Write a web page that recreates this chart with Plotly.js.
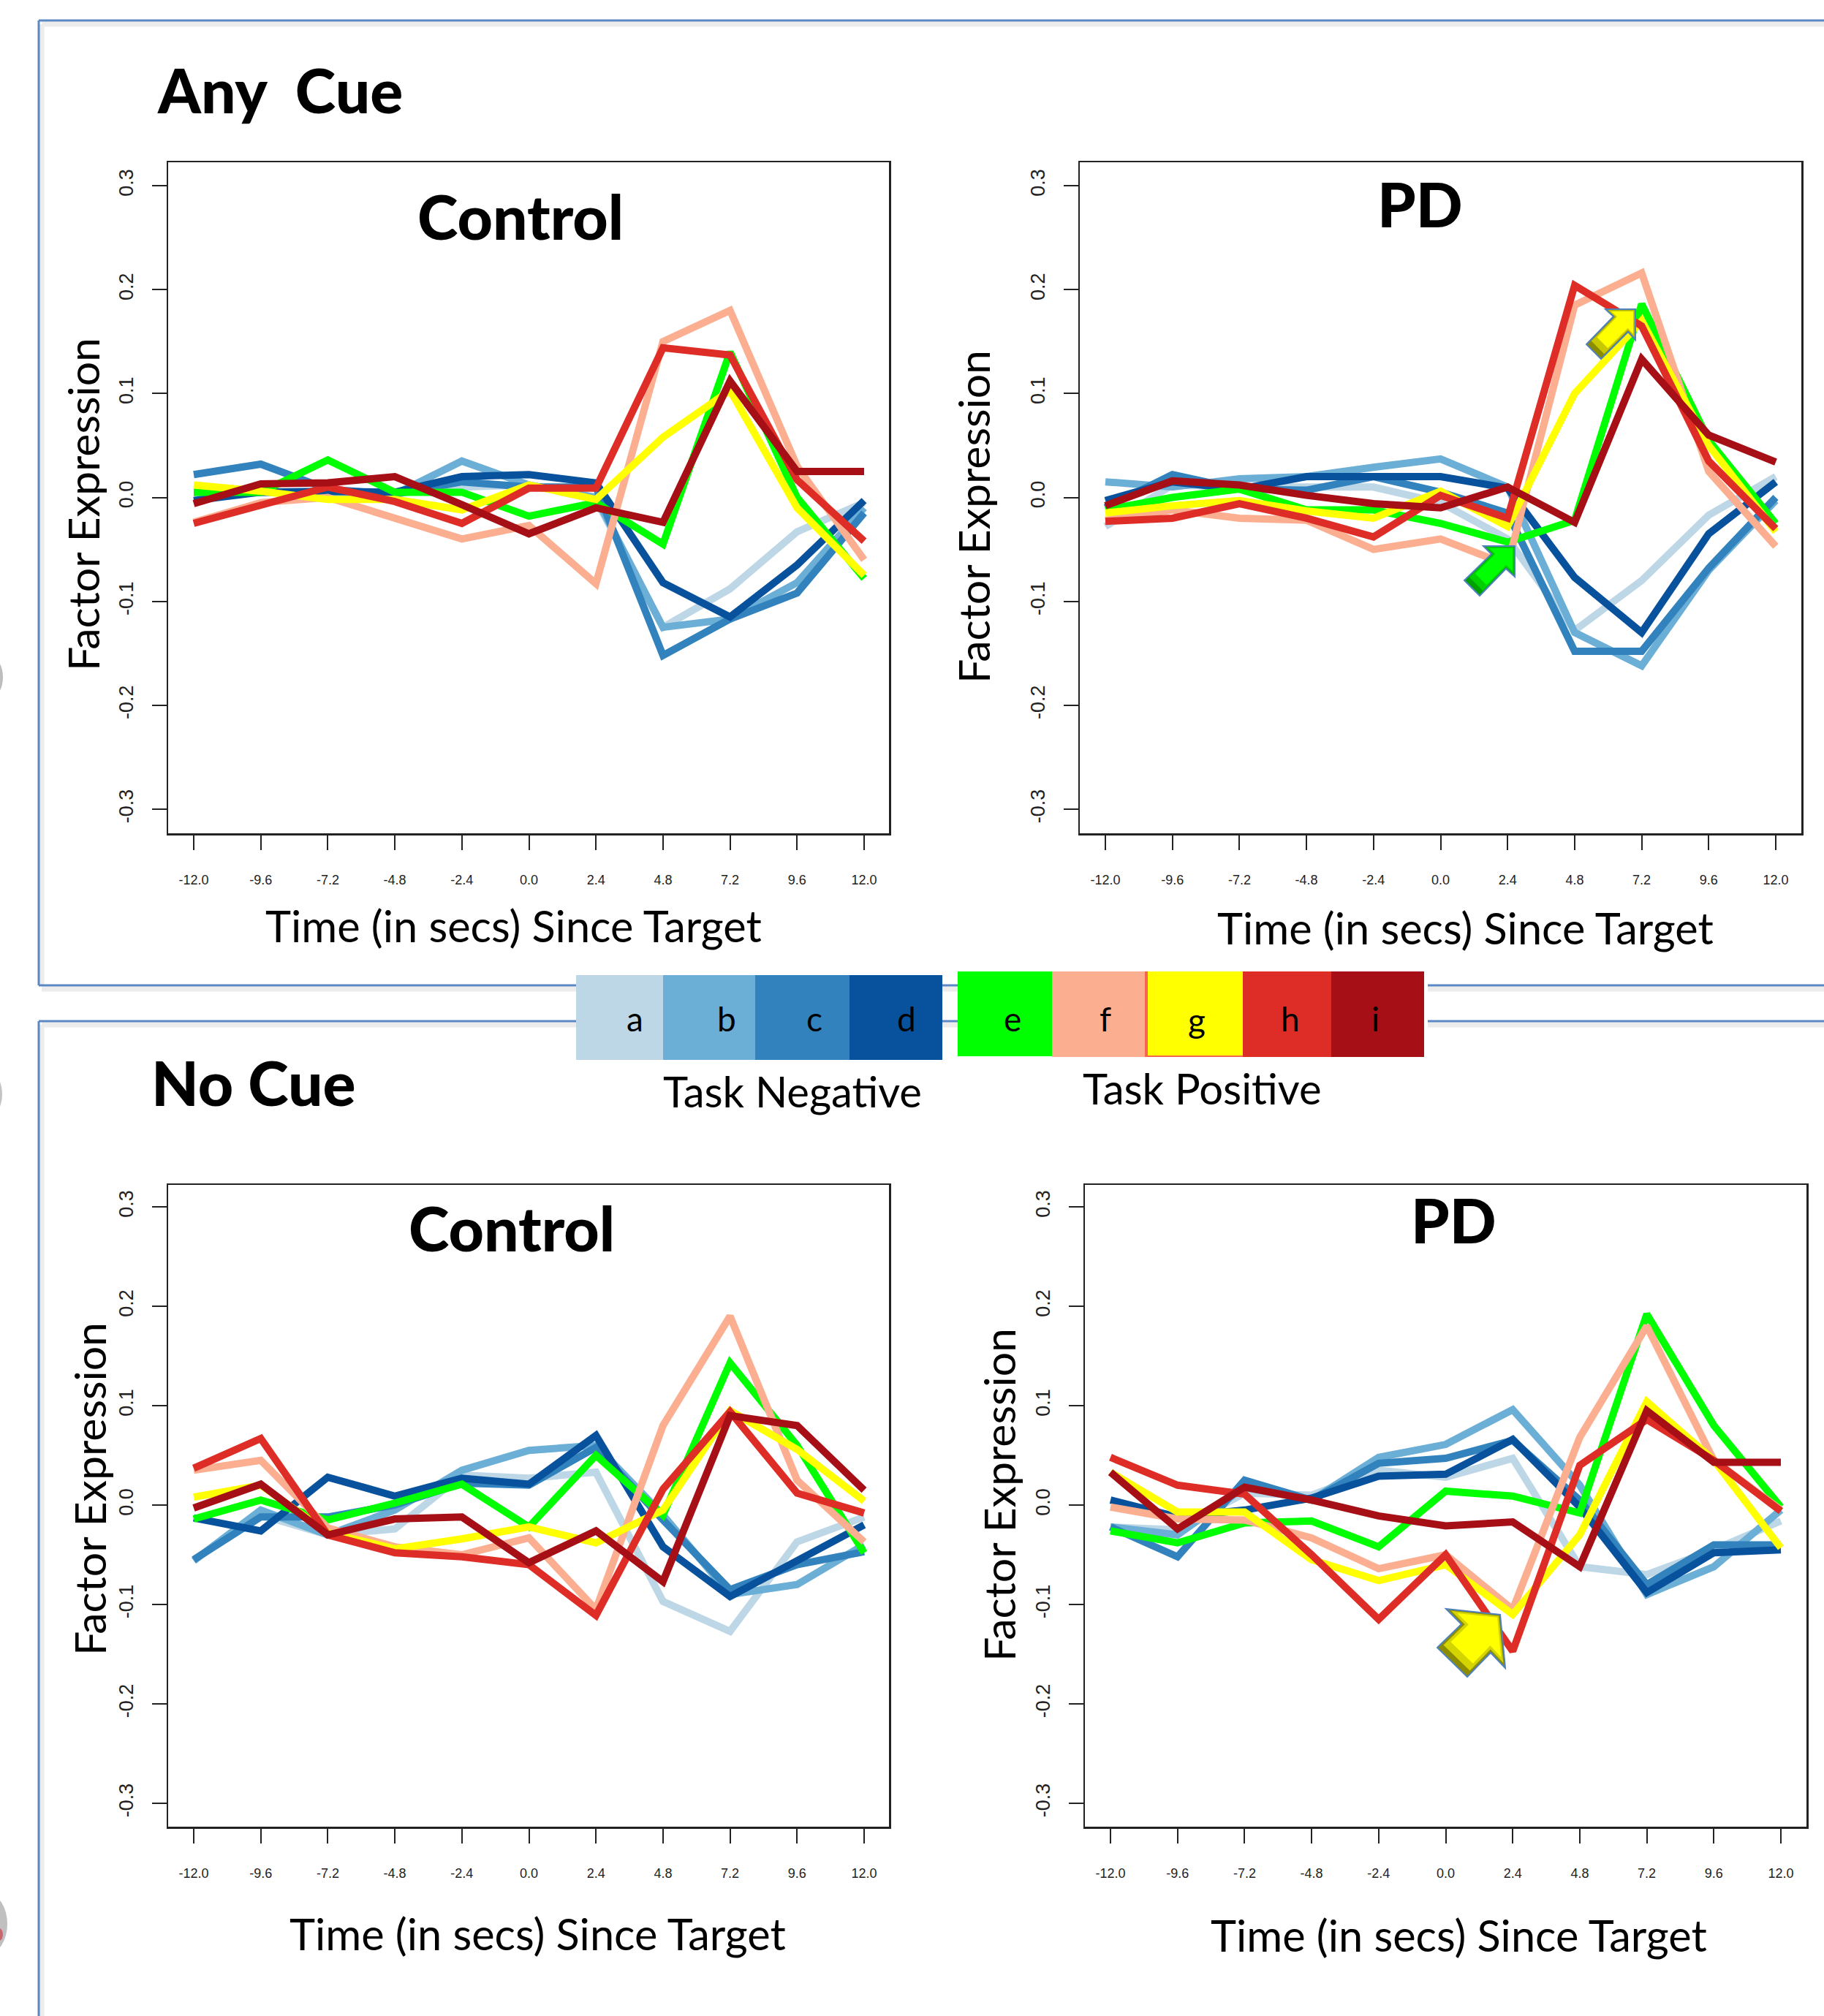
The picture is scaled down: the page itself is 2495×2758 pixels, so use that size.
<!DOCTYPE html>
<html><head><meta charset="utf-8"><script src="https://cdn.plot.ly/plotly-3.0.1.min.js"></script>
<style>html,body{margin:0;padding:0;background:#fff}</style></head>
<body><div id="chart" style="width:2495px;height:2758px"></div>
<script>
const times = [-12,-9.6,-7.2,-4.8,-2.4,0,2.4,4.8,7.2,9.6,12];
const timeLabels = ['-12.0','-9.6','-7.2','-4.8','-2.4','0.0','2.4','4.8','7.2','9.6','12.0'];
const yTicks = [-0.3,-0.2,-0.1,0,0.1,0.2,0.3];
const yLabels = ['-0.3','-0.2','-0.1','0.0','0.1','0.2','0.3'];
const seriesNames = ['a','b','c','d','e','f','g','h','i'];
const seriesColors = ['#BDD7E7','#6BAED6','#3182BD','#08519C','#00FF00','#FCAE91','#FFFF00','#DE2D26','#A50F15'];

const anyCueControl = [
 [0.005,0.005,0.005,0.005,0.010,0.012,-0.002,-0.125,-0.088,-0.033,-0.005],
 [0.005,0.005,0.005,0.003,0.035,0.012,0.000,-0.125,-0.117,-0.082,-0.010],
 [0.022,0.032,0.008,0.003,0.015,0.010,0.010,-0.152,-0.117,-0.092,-0.015],
 [-0.003,0.005,0.006,0.005,0.020,0.022,0.014,-0.082,-0.115,-0.065,-0.003],
 [0.005,0.005,0.036,0.005,0.005,-0.018,-0.005,-0.045,0.140,0.000,-0.078],
 [-0.024,-0.005,0.000,-0.020,-0.040,-0.027,-0.083,0.150,0.180,0.030,-0.060],
 [0.012,0.006,-0.002,-0.002,-0.012,0.012,-0.002,0.058,0.103,-0.010,-0.075],
 [-0.025,-0.008,0.010,-0.004,-0.025,0.009,0.009,0.144,0.137,0.017,-0.042],
 [-0.006,0.013,0.014,0.020,-0.007,-0.035,-0.010,-0.024,0.112,0.025,0.025]
];
const anyCuePD = [
 [-0.028,0.012,0.010,0.010,0.010,-0.005,-0.040,-0.128,-0.080,-0.017,0.020],
 [0.015,0.010,0.018,0.020,0.029,0.037,0.010,-0.130,-0.162,-0.070,-0.003],
 [-0.010,0.022,0.008,0.007,0.020,0.005,-0.015,-0.148,-0.148,-0.068,0.000],
 [-0.003,0.015,0.008,0.020,0.020,0.020,0.009,-0.077,-0.130,-0.035,0.015],
 [-0.012,0.000,0.008,-0.012,-0.012,-0.025,-0.043,-0.022,0.186,0.055,-0.025],
 [-0.022,-0.012,-0.020,-0.022,-0.050,-0.040,-0.065,0.185,0.216,0.025,-0.047],
 [-0.015,-0.008,-0.003,-0.013,-0.020,0.006,-0.028,0.100,0.170,0.050,-0.033],
 [-0.023,-0.020,-0.006,-0.020,-0.038,0.002,-0.020,0.204,0.165,0.035,-0.030],
 [-0.008,0.016,0.012,0.002,-0.006,-0.010,0.010,-0.024,0.133,0.060,0.034]
];
const noCueControl = [
 [-0.055,-0.010,-0.030,-0.024,0.030,0.027,0.033,-0.097,-0.127,-0.037,-0.012],
 [-0.056,-0.005,-0.030,-0.005,0.035,0.055,0.060,-0.010,-0.090,-0.080,-0.040],
 [-0.055,-0.012,-0.012,0.000,0.022,0.020,0.058,-0.015,-0.085,-0.060,-0.047],
 [-0.013,-0.026,0.028,0.009,0.027,0.021,0.070,-0.042,-0.092,-0.055,-0.020],
 [-0.014,0.005,-0.015,0.002,0.021,-0.022,0.050,-0.010,0.143,0.060,-0.048],
 [0.035,0.045,-0.023,-0.042,-0.050,-0.033,-0.105,0.080,0.190,0.025,-0.037],
 [0.008,0.020,-0.028,-0.044,-0.034,-0.022,-0.038,-0.005,0.095,0.056,0.004],
 [0.037,0.067,-0.030,-0.048,-0.052,-0.060,-0.111,0.016,0.094,0.012,-0.008],
 [-0.003,0.021,-0.030,-0.014,-0.012,-0.058,-0.026,-0.077,0.090,0.080,0.015]
];
const noCuePD = [
 [-0.022,-0.025,0.012,0.010,0.035,0.028,0.047,-0.062,-0.070,-0.045,-0.016],
 [-0.022,-0.030,0.018,0.005,0.048,0.061,0.096,0.020,-0.090,-0.062,-0.005],
 [-0.022,-0.052,0.025,0.005,0.042,0.047,0.065,0.005,-0.080,-0.040,-0.040],
 [0.005,-0.012,-0.005,0.007,0.029,0.031,0.066,-0.002,-0.088,-0.048,-0.045],
 [-0.026,-0.038,-0.018,-0.016,-0.042,0.014,0.009,-0.008,0.192,0.080,-0.002],
 [-0.002,-0.014,-0.015,-0.033,-0.064,-0.050,-0.105,0.068,0.180,0.045,-0.005],
 [0.033,-0.007,-0.007,-0.055,-0.076,-0.060,-0.110,-0.030,0.104,0.045,-0.043],
 [0.048,0.020,0.011,-0.050,-0.115,-0.050,-0.147,0.040,0.086,0.045,-0.006],
 [0.033,-0.024,0.018,0.005,-0.011,-0.021,-0.017,-0.062,0.095,0.043,0.043]
];

const W = 2495, H = 2758;
const X = p => p / W, Y = p => 1 - p / H;
const LATO = 'Lato, "Open Sans", sans-serif';

// name, data, frame L/R/T/B, pixel of x=-12 and x=12, pixel of y=0.3 and y=-0.3
const panels = [
 {data:anyCueControl, L:230,R:1216,T:222,B:1140, x0:265,x1:1182, yt:254,yb:1107},
 {data:anyCuePD,      L:1477,R:2464,T:222,B:1140, x0:1512,x1:2429, yt:254,yb:1107},
 {data:noCueControl,  L:230,R:1216,T:1621,B:2499, x0:265,x1:1182, yt:1651,yb:2467},
 {data:noCuePD,       L:1484,R:2471,T:1621,B:2499, x0:1519,x1:2436, yt:1651,yb:2467}
];

const traces = [];
const layout = {
 width:W, height:H, autosize:false, margin:{l:0,r:0,t:0,b:0},
 paper_bgcolor:'#fff', plot_bgcolor:'#fff', showlegend:false, shapes:[], annotations:[]
};
panels.forEach((p,i)=>{
 const s = i===0 ? '' : String(i+1);
 p.data.forEach((vals,k)=>traces.push({
  type:'scatter', mode:'lines', x:times, y:vals, name:seriesNames[k],
  xaxis:'x'+s, yaxis:'y'+s, line:{color:seriesColors[k], width:10, shape:'linear'}, hoverinfo:'x+y+name'
 }));
 const pxX = 24/(p.x1-p.x0), pxY = 0.6/(p.yb-p.yt);
 layout['xaxis'+s] = {
  domain:[X(p.L),X(p.R)], anchor:'y'+s,
  range:[-12-(p.x0-p.L)*pxX, 12+(p.R-p.x1)*pxX],
  tickmode:'array', tickvals:times, ticktext:timeLabels, ticks:'outside', ticklen:20, tickwidth:2, tickcolor:'#222',
  ticklabelstandoff:26, tickangle:0,
  tickfont:{family:'"Liberation Sans", Arial, sans-serif', size:18, color:'#222'},
  showline:true, mirror:true, linecolor:'#222', linewidth:2.5, showgrid:false, zeroline:false
 };
 layout['yaxis'+s] = {
  domain:[Y(p.B),Y(p.T)], anchor:'x'+s,
  range:[-0.3-(p.B-p.yb)*pxY, 0.3+(p.yt-p.T)*pxY],
  tickmode:'array', tickvals:yTicks, ticktext:yLabels, ticks:'outside', ticklen:20, tickwidth:2, tickcolor:'#222',
  ticklabelstandoff:15, tickangle:-90,
  tickfont:{family:'"Liberation Sans", Arial, sans-serif', size:27, color:'#222'},
  showline:true, mirror:true, linecolor:'#222', linewidth:2.5, showgrid:false, zeroline:false
 };
});

function text(t,px,py,size,opt={},weight){
 layout.annotations.push(Object.assign({text:t,xref:'paper',yref:'paper',x:X(px),y:Y(py),showarrow:false,
  xanchor:'center',yanchor:'middle',font:{family:LATO,size,color:'#000',weight:weight||400}},opt));
}
text('Any  Cue',213,122,84,{xanchor:'left'},900);
text('No Cue',205,1480,84,{xanchor:'left'},900);
text('Control',712,296,84,{},900);
text('PD',1942,278,84,{},900);
text('Control',700,1679,84,{},900);
text('PD',1988,1668,84,{},900);
const xTitle='Time (in secs) Since Target', yTitle='Factor Expression';
[[702,1266],[2004,1269],[735,2645],[1995,2647]].forEach(a=>text(xTitle,a[0],a[1],59.5));
[[113,690],[1332,707],[122,2037],[1366,2045]].forEach(a=>text(yTitle,a[0],a[1],59,{textangle:-90}));
text('Task Negative',1084,1492,58);
text('Task Positive',1644,1489,58);

// page frames
function addLine(x0,y0,x1,y1,color,width){
 layout.shapes.push({type:'line',xref:'paper',yref:'paper',x0:X(x0),y0:Y(y0),x1:X(x1),y1:Y(y1),line:{color,width},layer:'below'});
}
[[57,33,W,33],[57,1353,W,1353],[57,1402,W,1402],[57,33,57,1348],[57,1402,57,H]].forEach(a=>addLine(a[0],a[1],a[2],a[3],'#ececec',7));
[[53,28,W,28],[53,1348,W,1348],[53,1397,W,1397],[53,28,53,1348],[53,1397,53,H]].forEach(a=>addLine(a[0],a[1],a[2],a[3],'#5b87c5',3));

// gray ornaments clipped at the page's left edge
function ellipse(x0,y0,x1,y1,fill){
 layout.shapes.push({type:'circle',xref:'paper',yref:'paper',x0:X(x0),x1:X(x1),y0:Y(y0),y1:Y(y1),fillcolor:fill,line:{width:0},layer:'below'});
}
ellipse(-30,898,4,955,'#bdbdbd');
ellipse(-30,1468,3,1526,'#c4c4c4');
ellipse(-40,2592,10,2672,'#c0c0c0');
ellipse(-6,2638,4,2655,'#c9686c');

// legend swatches
function rect(x0,y0,x1,y1,fill){
 layout.shapes.push({type:'rect',xref:'paper',yref:'paper',x0:X(x0),x1:X(x1),y0:Y(y0),y1:Y(y1),fillcolor:fill,line:{width:0},layer:'above'});
}
const swEdges=[788,907,1033,1162,1289,1310,1439,1568,1700,1821,1948];
const swBox=[[1334,1450],[1334,1450],[1334,1450],[1334,1450],null,[1329,1445],[1329,1446],[1329,1445],[1329,1446],[1329,1446]];
rect(1948,1320,1953,1450,'#fff');
let c=0;
swEdges.slice(0,-1).forEach((e,i)=>{
 if(!swBox[i]) return;
 rect(e,swBox[i][0],swEdges[i+1],swBox[i][1],seriesColors[c]); c++;
});
rect(1566,1329,1570,1446,'#F4664E');
rect(1570,1444,1700,1446,'#F4664E');
const swLabelX=[868,994,1114,1240,1385,1512,1637,1765,1881];
const swLabelY=[1393,1393,1393,1393,1393,1393,1395,1393,1393];
seriesNames.forEach((n,i)=>text(n,swLabelX[i],swLabelY[i],46));

// block arrows on top of the plots
const arrows=[
 {pts:[[2029,747],[2072,747],[2072,789],[2060,778],[2024,815],[2003,794],[2040,758]],dark:'#00a000',mid:'#00d000',fill:'#00FF00'},
 {pts:[[2196,423],[2237,423],[2237,465],[2227,454],[2190,491],[2170,471],[2207,433]],dark:'#8c8c00',mid:'#c8c800',fill:'#FFFF00'},
 {pts:[[1978,2201],[2052,2209],[2059,2282],[2039,2261],[2007,2294],[1966,2254],[1999,2222]],dark:'#8c8c00',mid:'#d4d400',fill:'#FFFF00'}
];
function poly(pts,f,cx,cy,fill,line){
 const q=pts.map(a=>[cx+(a[0]-cx)*f+ (1-f)*(pts[1][0]-cx)*0.6, cy+(a[1]-cy)*f+(1-f)*(pts[1][1]-cy)*0.6]);
 const path='M'+q.map(a=>X(a[0]).toFixed(6)+','+Y(a[1]).toFixed(6)).join(' L')+' Z';
 layout.shapes.push({type:'path',xref:'paper',yref:'paper',path,fillcolor:fill,line:line||{width:0},layer:'above'});
}
arrows.forEach(a=>{
 const cx=a.pts.reduce((s,v)=>s+v[0],0)/a.pts.length, cy=a.pts.reduce((s,v)=>s+v[1],0)/a.pts.length;
 poly(a.pts,1,cx,cy,a.dark);
 poly(a.pts,0.88,cx,cy,a.mid);
 poly(a.pts,0.74,cx,cy,a.fill);
 poly(a.pts,1,cx,cy,'rgba(0,0,0,0)',{color:'#4f81bd',width:2});
});

Plotly.newPlot('chart',traces,layout,{staticPlot:true,displayModeBar:false});
</script></body></html>
